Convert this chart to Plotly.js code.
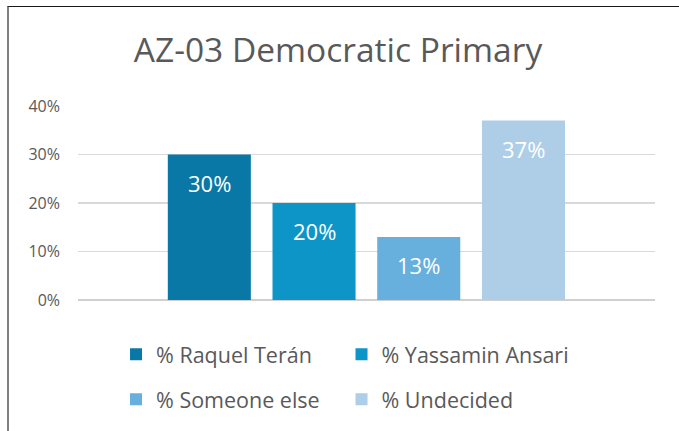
<!DOCTYPE html>
<html>
<head>
<meta charset="utf-8">
<script src="https://cdn.plot.ly/plotly-3.0.1.min.js"></script>
<style>
  html, body { margin: 0; padding: 0; background: #ffffff; }
  #wrap { position: relative; width: 679px; height: 431px; overflow: hidden; }
  #chart { position: absolute; left: 0; top: 0; width: 679px; height: 431px; }
  #frame { position: absolute; left: 7px; top: 6px; width: 700px; height: 440px;
           border-top: 1.5px solid #1a1a1a; border-left: 2px solid #808080; pointer-events: none; }
</style>
</head>
<body>
<div id="wrap">
  <div id="chart"></div>
  <div id="frame"></div>
</div>
<script>
// ---- data ----
const seriesNames = ['% Raquel Terán', '% Yassamin Ansari', '% Someone else', '% Undecided'];
const seriesValues = [30, 20, 13, 37];
const seriesColors = ['#0a78a6', '#0e95c8', '#67afdd', '#aecee8'];
const legendIds = ['legend', 'legend2', 'legend3', 'legend4'];
const yTickVals = [0, 10, 20, 30, 40];
const yTickText = ['0%', '10%', '20%', '30%', '40%'];
const chartTitle = 'AZ-03 Democratic Primary';

const FONT = 'Open Sans, Noto Sans, sans-serif';

const traces = seriesNames.map((name, i) => ({
  type: 'bar',
  name: name,
  x: [name],
  y: [seriesValues[i]],
  width: 0.793,
  marker: { color: seriesColors[i], line: { width: 0 } },
  hoverinfo: 'skip',
  legend: legendIds[i],
  showlegend: true
}));

const annotations = seriesNames.map((name, i) => ({
  x: name,
  y: seriesValues[i],
  xref: 'x',
  yref: 'y',
  text: seriesValues[i] + '%',
  showarrow: false,
  yshift: -28,
  font: { family: FONT, size: 22, color: '#ffffff' }
}));

// legend grid: 2 columns x 2 rows (positions in paper fraction)
const colX = [0.0659, 0.4567];
const rowY = [(300.5 - 355) / 194.5, (300.5 - 400) / 194.5];

function legendAt(col, row) {
  return {
    orientation: 'h',
    x: colX[col], xanchor: 'left',
    y: rowY[row], yanchor: 'middle',
    font: { family: FONT, size: 21.5, color: '#595959' },
    bgcolor: 'rgba(0,0,0,0)',
    borderwidth: 0,
    itemclick: false,
    itemdoubleclick: false
  };
}

const layout = {
  width: 679,
  height: 431,
  paper_bgcolor: 'rgba(0,0,0,0)',
  plot_bgcolor: 'rgba(0,0,0,0)',
  margin: { l: 78, r: 24, t: 106, b: 130.5, pad: 0, autoexpand: false },
  title: {
    text: chartTitle,
    font: { family: FONT, size: 33.5, color: '#595959' },
    x: 338 / 679, xanchor: 'center', xref: 'container',
    y: 1 - 50 / 431, yanchor: 'middle', yref: 'container'
  },
  barmode: 'overlay',
  xaxis: {
    type: 'category',
    range: [-1.254, 4.256],
    showticklabels: false,
    showgrid: false,
    zeroline: false,
    showline: false,
    fixedrange: true
  },
  yaxis: {
    range: [0, 40],
    tickvals: yTickVals,
    ticktext: yTickText,
    showgrid: true,
    gridcolor: '#d9d9d9',
    gridwidth: 1.5,
    zeroline: true,
    zerolinecolor: '#d0d0d0',
    zerolinewidth: 2,
    showline: false,
    ticks: '',
    ticklabelstandoff: 17,
    tickfont: { family: FONT, size: 16, color: '#595959' },
    fixedrange: true
  },
  legend: legendAt(0, 0),
  legend2: legendAt(1, 0),
  legend3: legendAt(0, 1),
  legend4: legendAt(1, 1),
  annotations: annotations,
  showlegend: true
};

Plotly.newPlot('chart', traces, layout, { displayModeBar: false, staticPlot: true });
</script>
</body>
</html>
